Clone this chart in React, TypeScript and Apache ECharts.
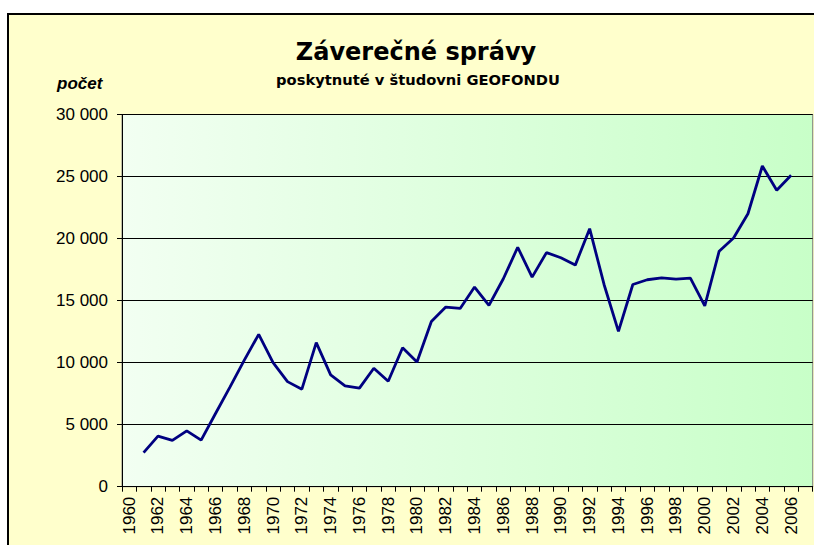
import React, { useEffect, useRef } from "react";
import * as echarts from "echarts";

const years: string[] = [];
for (let y = 1960; y <= 2007; y++) years.push(String(y));

// values for 1961..2006
const reportValues: number[] = [
  2750, 4080, 3730, 4500, 3750, 5900, 8020, 10200, 12280, 10000,
  8470, 7860, 11610, 9010, 8130, 7940, 9550, 8500, 11200, 10050,
  13320, 14480, 14370, 16090, 14610, 16760, 19300, 16890, 18870, 18450,
  17860, 20800, 16300, 12520, 16300, 16680, 16840, 16730, 16810, 14580,
  18980, 20050, 22000, 25850, 23900, 25100,
];
const firstYear = 1961;

const yTicks = [0, 5000, 10000, 15000, 20000, 25000, 30000];

const titleText = "Záverečné správy";
const subtitleText = "poskytnuté v študovni GEOFONDU";
const yAxisName = "počet";

export default function App() {
  const ref = useRef<HTMLDivElement>(null);
  useEffect(() => {
    if (!ref.current) return;
    const chart = echarts.init(ref.current, null, { renderer: "svg" });
    const data = years.map((y) => {
      const i = Number(y) - firstYear;
      return i >= 0 && i < reportValues.length ? reportValues[i] : null;
    });
    const fmt = (v: number) => String(v).replace(/\B(?=(\d{3})+(?!\d))/g, " ");
    chart.setOption({
      animation: false,
      backgroundColor: "#ffffff",
      graphic: [
        {
          type: "rect",
          z: -10,
          shape: { x: 8, y: 14, width: 900, height: 600 },
          style: { fill: "#FFFFCC", stroke: "#000000", lineWidth: 2 },
          silent: true,
        },
        {
          type: "text",
          x: 416,
          y: 51.5,
          style: {
            text: titleText,
            font: "bold 24px 'DejaVu Sans'",
            fill: "#000000",
            align: "center",
            verticalAlign: "middle",
          },
        },
        {
          type: "text",
          x: 418,
          y: 79,
          style: {
            text: subtitleText,
            font: "bold 14.7px 'DejaVu Sans'",
            fill: "#000000",
            align: "center",
            verticalAlign: "middle",
          },
        },
        {
          type: "text",
          x: 57,
          y: 83,
          style: {
            text: yAxisName,
            font: "italic bold 17px 'Liberation Sans'",
            fill: "#000000",
            align: "left",
            verticalAlign: "middle",
          },
        },
      ],
      grid: {
        left: 122,
        top: 114.5,
        right: 1.3,
        bottom: 58.3,
        show: true,
        backgroundColor: {
          type: "linear",
          x: 0,
          y: 0,
          x2: 1,
          y2: 0,
          colorStops: [
            { offset: 0, color: "#F2FFF2" },
            { offset: 1, color: "#C8FFC8" },
          ],
        },
        borderColor: "#808080",
        borderWidth: 1,
      },
      xAxis: {
        type: "category",
        data: years,
        boundaryGap: true,
        axisLine: { show: true, lineStyle: { color: "#000000", width: 1 } },
        axisTick: { show: true, interval: 0, length: 5, lineStyle: { color: "#000000" } },
        axisLabel: {
          interval: 1,
          rotate: 90,
          margin: 10,
          color: "#000000",
          fontSize: 17,
          fontFamily: "'Liberation Sans', Arial",
        },
        splitLine: { show: false },
      },
      yAxis: {
        type: "value",
        min: 0,
        max: 30000,
        interval: 5000,
        axisLine: { show: true, lineStyle: { color: "#000000", width: 1 } },
        axisTick: { show: true, length: 5, lineStyle: { color: "#000000" } },
        axisLabel: {
          margin: 14,
          color: "#000000",
          fontSize: 17,
          fontFamily: "'Liberation Sans', Arial",
          formatter: (v: number) => (yTicks.includes(v) ? fmt(v) : ""),
        },
        splitLine: { show: true, lineStyle: { color: "#000000", width: 1 } },
      },
      series: [
        {
          type: "line",
          data,
          symbol: "none",
          connectNulls: false,
          lineStyle: { color: "#000080", width: 2.8 },
          itemStyle: { color: "#000080" },
        },
      ],
    });
    return () => chart.dispose();
  }, []);
  return (
    <div
      ref={ref}
      style={{ position: "absolute", left: 0, top: 0, width: 814, height: 545 }}
    />
  );
}
